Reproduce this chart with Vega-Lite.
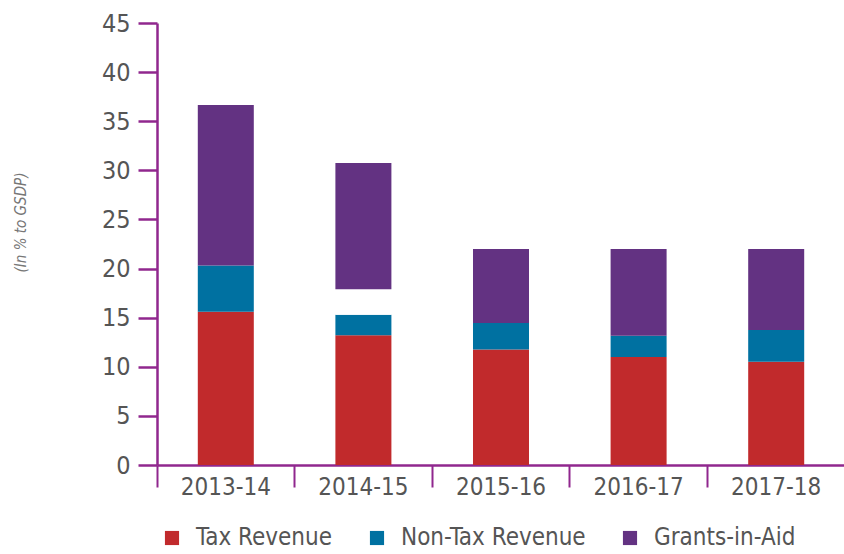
{
  "$schema": "https://vega.github.io/schema/vega-lite/v6.json",
  "width": 688,
  "height": 442,
  "autosize": {"type": "none"},
  "padding": {"left": 157, "top": 23, "right": 0, "bottom": 89},
  "background": "white",
  "config": {"view": {"stroke": null}},
  "data": {
    "values": [
      {"year": "2013-14", "component": "Tax Revenue", "ord": 1, "value": 15.6},
      {"year": "2013-14", "component": "Non-Tax Revenue", "ord": 2, "value": 4.7},
      {"year": "2013-14", "component": "Grants-in-Aid", "ord": 4, "value": 16.35},
      {"year": "2014-15", "component": "Tax Revenue", "ord": 1, "value": 13.2},
      {"year": "2014-15", "component": "Non-Tax Revenue", "ord": 2, "value": 2.1},
      {"year": "2014-15", "component": "Gap", "ord": 3, "value": 2.6},
      {"year": "2014-15", "component": "Grants-in-Aid", "ord": 4, "value": 12.85},
      {"year": "2015-16", "component": "Tax Revenue", "ord": 1, "value": 11.75},
      {"year": "2015-16", "component": "Non-Tax Revenue", "ord": 2, "value": 2.7},
      {"year": "2015-16", "component": "Grants-in-Aid", "ord": 4, "value": 7.55},
      {"year": "2016-17", "component": "Tax Revenue", "ord": 1, "value": 11.0},
      {"year": "2016-17", "component": "Non-Tax Revenue", "ord": 2, "value": 2.15},
      {"year": "2016-17", "component": "Grants-in-Aid", "ord": 4, "value": 8.85},
      {"year": "2017-18", "component": "Tax Revenue", "ord": 1, "value": 10.5},
      {"year": "2017-18", "component": "Non-Tax Revenue", "ord": 2, "value": 3.25},
      {"year": "2017-18", "component": "Grants-in-Aid", "ord": 4, "value": 8.25}
    ]
  },
  "mark": {"type": "bar", "width": {"band": 0.407}},
  "encoding": {
    "x": {
      "field": "year",
      "type": "nominal",
      "sort": null,
      "scale": {"paddingInner": 0, "paddingOuter": 0},
      "axis": {
        "title": null,
        "labelAngle": 0,
        "bandPosition": 0,
        "domainColor": "#90278E",
        "domainWidth": 2.5,
        "tickColor": "#90278E",
        "tickWidth": 2,
        "tickSize": 22,
        "labelPadding": -12,
        "labelFont": "DejaVu Sans Condensed",
        "labelFontSize": 24,
        "labelColor": "#555555",
        "labelBaseline": "top"
      }
    },
    "y": {
      "field": "value",
      "type": "quantitative",
      "stack": "zero",
      "scale": {"domain": [0, 45]},
      "axis": {
        "values": [0, 5, 10, 15, 20, 25, 30, 35, 40, 45],
        "grid": false,
        "title": "(In % to GSDP)",
        "titleFont": "DejaVu Sans Condensed",
        "titleFontSize": 15,
        "titleFontStyle": "italic",
        "titleFontWeight": "normal",
        "titleColor": "#777777",
        "titleAngle": -90,
        "titleX": -137,
        "titleY": 199,
        "titleAlign": "center",
        "titleBaseline": "middle",
        "domainColor": "#90278E",
        "domainWidth": 2.5,
        "tickColor": "#90278E",
        "tickWidth": 2.5,
        "tickSize": 19,
        "labelPadding": 8,
        "labelFont": "DejaVu Sans Condensed",
        "labelFontSize": 25,
        "labelColor": "#555555"
      }
    },
    "color": {
      "field": "component",
      "type": "nominal",
      "scale": {
        "domain": ["Tax Revenue", "Non-Tax Revenue", "Gap", "Grants-in-Aid"],
        "range": ["#C12A2C", "#0071A1", "#FFFFFF", "#633282"]
      },
      "legend": {
        "values": ["Tax Revenue", "Non-Tax Revenue", "Grants-in-Aid"],
        "title": null,
        "orient": "none",
        "direction": "horizontal",
        "legendX": 3,
        "legendY": 503,
        "symbolType": "square",
        "symbolSize": 200,
        "symbolStrokeWidth": 0,
        "labelFont": "DejaVu Sans Condensed",
        "labelFontSize": 24,
        "labelLimit": 400,
        "labelColor": "#555555",
        "labelOffset": 12,
        "columnPadding": 32
      }
    },
    "order": {"field": "ord", "type": "quantitative"}
  }
}
